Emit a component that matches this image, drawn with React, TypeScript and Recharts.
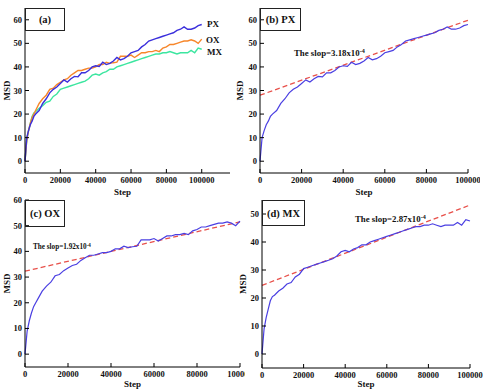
import React from "react";
import { LineChart, Line, XAxis, YAxis } from "recharts";

// simulation steps and MSD readings for the three systems
const steps = [
  0, 1000, 2000, 3000, 4000, 5000, 6000, 8000, 10000, 12000, 14000, 16000, 18000, 20000,
  22000, 24000, 26000, 28000, 30000, 32000, 34000, 36000, 38000, 40000, 42000, 44000,
  46000, 48000, 50000, 52000, 54000, 56000, 58000, 60000, 62000, 64000, 66000, 68000,
  70000, 72000, 74000, 76000, 78000, 80000, 82000, 84000, 86000, 88000, 90000, 92000,
  94000, 96000, 98000, 100000,
];
const px = [
  0, 10, 13, 15.5, 17, 19, 20, 21.5, 24.5, 26.5, 29, 30.5, 31.5, 33,
  34.5, 33.6, 35, 36, 35.8, 37.5, 37.5, 38.5, 40, 40.5, 40.2, 42,
  41, 41.5, 42.5, 44, 43, 43.5, 44.5, 46, 46.5, 47, 48.5, 49.5,
  51, 51.5, 52, 52.5, 53, 53.5, 54, 54.5, 55.5, 56, 57, 56,
  56, 56.5, 57.5, 58,
];
const ox = [
  0, 9, 13, 16, 18.5, 20, 21.5, 24.5, 26.5, 28, 30.5, 31, 32.5, 33.5,
  34.5, 35, 36.5, 37.5, 38.5, 38.5, 39, 39.5, 39.5, 40, 41, 41,
  42, 41.5, 41.8, 42, 44.5, 44.5, 44.5, 45, 44, 45, 46, 46,
  46.5, 46.5, 47, 46.5, 48, 48.5, 49.5, 49.5, 50, 50.5, 51, 51,
  51.5, 51, 50, 51.8,
];
const mx = [
  0, 9, 13, 16, 19, 20.5, 21, 22.5, 23.5, 25, 25.5, 27.5, 28.5, 30.5,
  31, 31.5, 32, 32.5, 33, 33.5, 34, 35, 36.5, 37, 36.5, 37.5,
  38, 39, 39, 40, 40.5, 41, 41.5, 42, 42.5, 43, 43.5, 44,
  44.5, 45, 45.5, 45.5, 46, 46, 46.5, 46, 45.5, 46, 46, 46,
  47, 46, 48, 47.5,
];

// linear fits (start / end of the dashed lines)
const fitSteps = [0, 100000];
const fitPX = [28, 59.8];
const fitOX = [32.3, 51.5];
const fitMX = [24.5, 53.2];

const xTicks = [0, 20000, 40000, 60000, 80000, 100000];
const yTicks60 = [0, 10, 20, 30, 40, 50, 60];
const yTicks50 = [0, 10, 20, 30, 40, 50];

const font = '"Liberation Serif", "Times New Roman", serif';
const table = steps.map((step, i) => ({ step, px: px[i], ox: ox[i], mx: mx[i] }));
const fitRows = (v: number[]) => fitSteps.map((step, i) => ({ step, fit: v[i] }));

const tickStyle = { fill: "#111", fontSize: 8.5, fontWeight: 700, fontFamily: font };
const titleStyle = { fill: "#111", fontSize: 9, fontWeight: 700, fontFamily: font };
const BLUE = "#4a3fe2";
const RED = "#e8504a";

type PanelProps = {
  left: number;
  top: number;
  width: number;
  height: number;
  clip?: number;
  margin: { top: number; right: number; bottom: number; left: number };
  yWidth: number;
  xHeight: number;
  xMax: number;
  yDomain: [number, number];
  yTicks: number[];
  yTitleDx: number;
  xTitleDx?: number;
  children: React.ReactNode;
};

function Panel(p: PanelProps) {
  return (
    <div style={{ position: "absolute", left: p.left, top: p.top, width: p.clip ?? p.width, height: p.height, overflow: "hidden" }}>
      <LineChart width={p.width} height={p.height} data={table} margin={p.margin}>
        <XAxis
          type="number"
          dataKey="step"
          domain={[0, p.xMax]}
          ticks={xTicks}
          interval={0}
          height={p.xHeight}
          tick={tickStyle}
          tickSize={-4}
          tickMargin={8}
          stroke="#000"
          label={{ value: "Step", position: "insideBottom", offset: 0, dx: p.xTitleDx ?? 0, style: titleStyle }}
        />
        <XAxis xAxisId="top" orientation="top" type="number" dataKey="step" domain={[0, p.xMax]} ticks={xTicks} interval={0} height={0} tick={false} tickSize={-4} stroke="#000" />
        <YAxis
          type="number"
          domain={p.yDomain}
          ticks={p.yTicks}
          interval={0}
          width={p.yWidth}
          tick={tickStyle}
          tickSize={-4}
          tickMargin={7}
          stroke="#000"
          label={{ value: "MSD", angle: -90, position: "center", dx: p.yTitleDx, style: titleStyle }}
        />
        <YAxis yAxisId="right" orientation="right" type="number" domain={p.yDomain} ticks={p.yTicks} interval={0} width={0} tick={false} tickSize={-4} stroke="#000" />
        {p.children}
      </LineChart>
    </div>
  );
}

function Tag({ left, top, width, height, text, size = 10.5 }: { left: number; top: number; width: number; height: number; text: string; size?: number }) {
  return (
    <div style={{ position: "absolute", left, top, width, height, boxSizing: "border-box", border: "1.5px solid #222", display: "flex", alignItems: "center", justifyContent: "center", fontFamily: font, fontWeight: 700, fontSize: size, color: "#111" }}>
      {text}
    </div>
  );
}

function Note({ left, cy, size, children }: { left: number; cy: number; size: number; children: React.ReactNode }) {
  return (
    <div style={{ position: "absolute", left, top: cy - size / 2, lineHeight: `${size}px`, fontFamily: font, fontWeight: 700, fontSize: size, color: "#111", whiteSpace: "nowrap" }}>
      {children}
    </div>
  );
}

const sup = (s: string) => <sup style={{ fontSize: "0.7em", verticalAlign: "0.45em", lineHeight: 0 }}>{s}</sup>;

export default function App() {
  return (
    <div style={{ position: "absolute", left: 0, top: 0, width: 483, height: 392, background: "#fff", overflow: "hidden" }}>
      <Panel left={0} top={0} width={232} height={199} margin={{ top: 8, right: 2, bottom: 4, left: 0 }} yWidth={25} xHeight={22} xMax={116000} yDomain={[-5, 65]} yTicks={yTicks60} yTitleDx={-6} xTitleDx={-5}>
        <Line dataKey="mx" stroke="#3ce6a0" strokeWidth={1.4} dot={false} isAnimationActive={false} />
        <Line dataKey="ox" stroke="#f7862a" strokeWidth={1.4} dot={false} isAnimationActive={false} />
        <Line dataKey="px" stroke="#3b2fdc" strokeWidth={1.4} dot={false} isAnimationActive={false} />
      </Panel>
      <Panel left={232} top={0} width={248} height={199} margin={{ top: 8, right: 12, bottom: 4, left: 0 }} yWidth={28} xHeight={22} xMax={100000} yDomain={[-5, 65]} yTicks={yTicks60} yTitleDx={-6}>
        <Line data={fitRows(fitPX)} dataKey="fit" stroke={RED} strokeWidth={1.3} strokeDasharray="5 3" dot={false} isAnimationActive={false} />
        <Line dataKey="px" stroke={BLUE} strokeWidth={1.2} dot={false} isAnimationActive={false} />
      </Panel>
      <Panel left={0} top={195} width={262} clip={245} height={197} margin={{ top: 5, right: 22, bottom: 5, left: 0 }} yWidth={25} xHeight={20} xMax={100000} yDomain={[-5, 60]} yTicks={yTicks60} yTitleDx={-6}>
        <Line data={fitRows(fitOX)} dataKey="fit" stroke={RED} strokeWidth={1.3} strokeDasharray="5 3" dot={false} isAnimationActive={false} />
        <Line dataKey="ox" stroke={BLUE} strokeWidth={1.2} dot={false} isAnimationActive={false} />
      </Panel>
      <Panel left={238} top={195} width={245} height={197} margin={{ top: 5, right: 13, bottom: 5, left: 0 }} yWidth={24} xHeight={19} xMax={100000} yDomain={[-5, 55]} yTicks={yTicks50} yTitleDx={-7}>
        <Line data={fitRows(fitMX)} dataKey="fit" stroke={RED} strokeWidth={1.3} strokeDasharray="5 3" dot={false} isAnimationActive={false} />
        <Line dataKey="mx" stroke={BLUE} strokeWidth={1.2} dot={false} isAnimationActive={false} />
      </Panel>

      <Tag left={25} top={8} width={40} height={23} text="(a)" />
      <Tag left={260} top={8} width={41} height={23} text="(b) PX" />
      <Tag left={25} top={200} width={40} height={27} text="(c) OX" />
      <Tag left={262} top={200} width={43} height={26} text="(d) MX" />

      <Note left={207} cy={24} size={9}>PX</Note>
      <Note left={206} cy={40} size={9}>OX</Note>
      <Note left={207} cy={52} size={9}>MX</Note>

      <Note left={294} cy={53} size={8.8}>The slop=3.18x10{sup("-4")}</Note>
      <Note left={33} cy={248} size={7.2}>The slop=1.92x10{sup("-4")}</Note>
      <Note left={355} cy={219} size={8.8}>The slop=2.87x10{sup("-4")}</Note>
    </div>
  );
}
